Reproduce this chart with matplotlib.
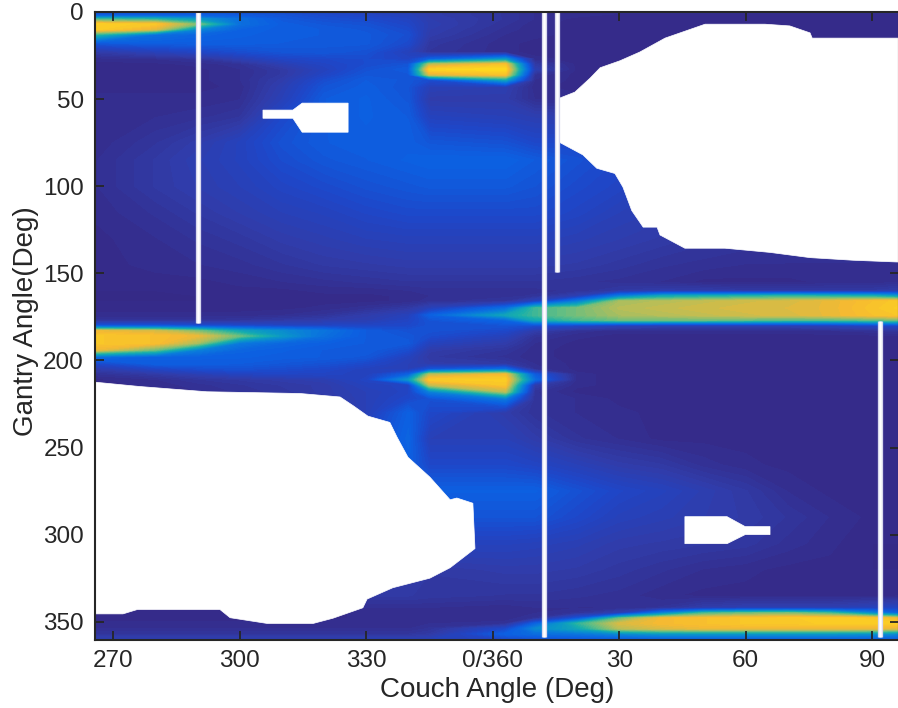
import matplotlib
matplotlib.use('Agg')
import matplotlib.pyplot as plt
from matplotlib.colors import LinearSegmentedColormap
import numpy as np

plt.rcParams['font.family'] = ['Liberation Sans', 'DejaVu Sans']

# couch angle, signed: negative values are 270..359 on the axis
couch = [-94, -80, -70, -60, -50, -40, -30, -20, -15, 3, 10, 20, 30, 40, 50, 60, 70, 80, 90, 97]
gantry = [0, 2, 4, 7, 10, 13, 18, 23, 27, 30, 33, 36, 39, 43, 50, 60, 75, 85, 100, 115,
          130, 145, 155, 160, 163, 166, 170, 174, 177, 180, 183, 186, 190, 194, 198, 202,
          205, 208, 211, 214, 218, 222, 230, 245, 260, 275, 290, 305, 320, 335, 342, 345,
          348, 351, 354, 357, 361]

# leido a ojo de la imagen, escala 0-100
dose = [
    [20, 24, 26, 24, 22, 20, 17, 14, 10, 6, 3, 2, 2, 2, 2, 2, 2, 2, 2, 2],
    [30, 30, 30, 28, 25, 21, 18, 15, 10, 6, 3, 2, 1, 1, 1, 1, 1, 1, 1, 1],
    [64, 60, 50, 36, 27, 23, 21, 17, 11, 6, 3, 1, 1, 1, 1, 1, 1, 1, 1, 1],
    [97, 94, 72, 36, 29, 26, 24, 19, 12, 5, 2, 1, 1, 1, 1, 1, 1, 1, 1, 1],
    [96, 86, 44, 31, 29, 28, 26, 21, 11, 4, 2, 1, 1, 1, 1, 1, 1, 1, 1, 1],
    [62, 36, 32, 30, 29, 28, 27, 23, 10, 3, 2, 1, 1, 1, 1, 1, 1, 1, 1, 1],
    [26, 29, 29, 29, 28, 27, 27, 21, 7, 2, 1, 1, 1, 1, 1, 1, 1, 1, 1, 1],
    [9, 14, 18, 22, 25, 26, 24, 15, 6, 2, 1, 1, 1, 1, 1, 1, 1, 1, 1, 1],
    [2, 3, 5, 12, 18, 20, 22, 18, 30, 50, 2, 1, 1, 1, 1, 1, 1, 1, 1, 1],
    [1, 1, 2, 4, 12, 18, 22, 25, 80, 92, 8, 1, 1, 1, 1, 1, 1, 1, 1, 1],
    [1, 1, 1, 3, 8, 16, 24, 28, 98, 100, 12, 1, 1, 1, 1, 1, 1, 1, 1, 1],
    [1, 1, 1, 3, 8, 18, 26, 26, 85, 92, 4, 1, 1, 1, 1, 1, 1, 1, 1, 1],
    [1, 1, 1, 3, 10, 22, 28, 26, 22, 55, 3, 1, 1, 1, 1, 1, 1, 1, 1, 1],
    [1, 1, 1, 2, 12, 25, 29, 25, 14, 12, 2, 1, 1, 1, 1, 1, 1, 1, 1, 1],
    [2, 2, 2, 3, 14, 28, 30, 26, 10, 10, 3, 2, 2, 2, 2, 2, 2, 2, 2, 2],
    [2, 3, 4, 6, 20, 28, 30, 28, 16, 14, 12, 10, 10, 10, 10, 10, 10, 10, 10, 10],
    [2, 6, 10, 16, 24, 28, 29, 29, 26, 24, 20, 20, 18, 16, 14, 12, 10, 10, 10, 10],
    [3, 8, 12, 16, 22, 26, 28, 30, 31, 31, 28, 24, 20, 16, 14, 12, 10, 10, 10, 10],
    [3, 8, 11, 14, 18, 21, 24, 26, 27, 27, 25, 21, 18, 14, 12, 10, 10, 10, 10, 10],
    [2, 5, 8, 11, 14, 16, 19, 21, 21, 21, 21, 18, 14, 12, 10, 8, 8, 8, 8, 8],
    [1, 3, 5, 7, 10, 12, 14, 15, 15, 15, 15, 13, 11, 9, 7, 6, 5, 5, 5, 5],
    [1, 2, 3, 4, 6, 8, 9, 10, 10, 10, 10, 9, 7, 5, 4, 3, 3, 3, 3, 3],
    [1, 1, 1, 2, 3, 4, 5, 6, 6, 6, 6, 5, 4, 3, 1, 1, 1, 2, 2, 3],
    [0, 0, 1, 1, 1, 2, 2, 3, 4, 4, 4, 5, 8, 10, 10, 8, 8, 8, 8, 10],
    [0, 0, 0, 1, 1, 1, 1, 2, 3, 4, 5, 12, 40, 55, 58, 60, 62, 60, 58, 50],
    [0, 0, 0, 1, 1, 1, 1, 2, 4, 6, 15, 40, 78, 80, 82, 84, 85, 88, 92, 95],
    [1, 1, 1, 1, 1, 2, 4, 8, 14, 35, 65, 72, 80, 82, 84, 85, 86, 88, 93, 96],
    [2, 2, 2, 2, 3, 5, 10, 15, 30, 55, 65, 72, 78, 80, 82, 84, 85, 88, 92, 94],
    [5, 5, 5, 6, 8, 10, 12, 18, 25, 32, 55, 65, 70, 70, 70, 68, 66, 66, 68, 70],
    [25, 25, 22, 20, 18, 18, 18, 20, 24, 25, 22, 18, 14, 12, 12, 12, 12, 14, 18, 20],
    [88, 84, 72, 55, 46, 38, 28, 24, 24, 20, 10, 4, 2, 2, 2, 2, 2, 3, 4, 6],
    [94, 92, 88, 70, 50, 36, 28, 26, 22, 15, 5, 2, 1, 1, 1, 1, 1, 1, 1, 1],
    [94, 92, 78, 40, 33, 30, 28, 27, 16, 10, 3, 1, 1, 1, 1, 1, 1, 1, 1, 1],
    [88, 70, 42, 32, 30, 28, 28, 22, 10, 6, 2, 1, 1, 1, 1, 1, 1, 1, 1, 1],
    [36, 30, 30, 30, 29, 28, 26, 16, 8, 4, 2, 1, 1, 1, 1, 1, 1, 1, 1, 1],
    [20, 29, 29, 28, 26, 24, 20, 14, 10, 8, 3, 1, 1, 1, 1, 1, 1, 1, 1, 1],
    [10, 18, 22, 24, 22, 20, 16, 14, 25, 35, 4, 1, 1, 1, 1, 1, 1, 1, 1, 1],
    [4, 8, 12, 16, 18, 18, 16, 30, 80, 90, 28, 2, 1, 1, 1, 1, 1, 1, 1, 1],
    [1, 3, 6, 8, 10, 12, 18, 50, 95, 96, 35, 2, 1, 1, 1, 1, 1, 1, 1, 1],
    [1, 2, 4, 6, 8, 10, 16, 18, 82, 94, 10, 2, 1, 1, 1, 1, 1, 1, 1, 1],
    [1, 1, 3, 5, 7, 10, 14, 18, 42, 80, 5, 1, 1, 1, 1, 1, 1, 1, 1, 1],
    [5, 5, 5, 5, 5, 8, 14, 20, 24, 40, 5, 3, 1, 1, 1, 1, 1, 1, 1, 1],
    [5, 5, 5, 5, 5, 5, 14, 30, 20, 10, 5, 3, 2, 1, 1, 1, 1, 1, 1, 1],
    [10, 10, 10, 10, 10, 10, 20, 32, 14, 14, 10, 5, 3, 1, 1, 1, 1, 1, 1, 1],
    [10, 10, 10, 10, 10, 10, 20, 30, 20, 20, 18, 14, 10, 8, 4, 2, 1, 1, 1, 1],
    [10, 10, 10, 10, 10, 10, 20, 30, 30, 30, 30, 24, 19, 16, 12, 8, 3, 1, 1, 1],
    [10, 10, 10, 10, 10, 10, 20, 25, 25, 25, 25, 20, 15, 13, 11, 9, 6, 3, 1, 1],
    [10, 10, 10, 10, 10, 10, 16, 16, 16, 16, 15, 13, 10, 9, 8, 7, 4, 2, 0, 0],
    [5, 5, 5, 5, 5, 8, 8, 8, 8, 10, 10, 9, 7, 5, 3, 2, 1, 1, 0, 0],
    [2, 2, 2, 2, 3, 5, 8, 8, 7, 6, 6, 5, 4, 2, 1, 1, 1, 1, 1, 1],
    [1, 1, 1, 1, 1, 2, 3, 3, 3, 2, 3, 3, 3, 5, 10, 12, 12, 12, 15, 18],
    [1, 1, 1, 1, 1, 1, 2, 2, 2, 2, 3, 5, 12, 42, 65, 70, 72, 65, 45, 30],
    [1, 1, 1, 1, 1, 1, 2, 2, 2, 2, 5, 25, 70, 90, 92, 94, 95, 96, 95, 88],
    [2, 2, 2, 2, 2, 2, 2, 2, 3, 4, 30, 62, 85, 90, 92, 94, 94, 96, 96, 96],
    [3, 3, 3, 3, 3, 3, 3, 3, 5, 20, 45, 55, 80, 85, 88, 88, 88, 88, 88, 85],
    [6, 6, 6, 6, 6, 6, 6, 6, 8, 30, 35, 38, 45, 50, 50, 50, 50, 50, 48, 45],
    [14, 14, 14, 14, 14, 14, 15, 15, 16, 18, 20, 22, 22, 22, 22, 22, 22, 22, 22, 22],
]

# regiones sin dato (couch, gantry)
white_upper = [(15.3, 50), (19.5, 46), (23.1, 38), (25.5, 32), (30.2, 28), (34.9, 23), (40.9, 15),
               (50.4, 7), (64.6, 7), (70.5, 8), (75.3, 12), (75.8, 15), (97, 15), (97, 143.6),
               (85.5, 142.5), (75.3, 141), (65.8, 138), (55.1, 135.6), (45.6, 135.6), (39.7, 128),
               (39, 123.5), (35.7, 123.5), (33, 114), (30.9, 100.5), (29, 92.7), (24.7, 89.7),
               (21.4, 82), (16, 75), (15.3, 75)]
white_lower = [(-94.35, 212.5), (-83.7, 215), (-67.8, 218), (-45.7, 219), (-36.2, 221), (-33.1, 226),
               (-29.6, 232), (-24.4, 235.6), (-22.7, 244), (-20.1, 255.6), (-14.9, 267), (-10.1, 280),
               (-8.5, 279), (-4.7, 282), (-4.2, 308), (-10.1, 319), (-14.9, 325), (-23.7, 330.5),
               (-29.8, 337), (-30.8, 342), (-37.9, 348), (-42.6, 351), (-53.5, 351), (-62.3, 347.7),
               (-64.7, 343), (-84.3, 343), (-87.7, 345.5), (-94.35, 345.5)]
white_small_a = [(-54.5, 56.3), (-47.4, 56.3), (-45.2, 52.3), (-34.3, 52.3), (-34.3, 69), (-45.2, 69),
                 (-47.4, 61), (-54.5, 61)]
white_small_b = [(45.6, 289.7), (55.6, 289.7), (59.9, 295.4), (65.8, 295.4), (65.8, 300), (59.9, 300),
                 (55.6, 305.2), (45.6, 305.2)]

# columnas sin dato: couch, gantry inicio, gantry fin
gap_couch = [-69.9, 12.2, 15.2, 92]
gap_start = [0, 0, 0, 177.6]
gap_end = [178.5, 358.5, 149, 358.5]

xticks = [-90, -60, -30, 0, 30, 60, 90]
xticklabels = ['270', '300', '330', '0/360', '30', '60', '90']
yticks = [0, 50, 100, 150, 200, 250, 300, 350]

cmap = LinearSegmentedColormap.from_list('dose', ['#352a87', '#303cAA', '#1e46c8', '#0c5fe1', '#0a78dc',
                                                 '#0a96c8', '#19afaa', '#64be82', '#b4be5a', '#f5b932',
                                                 '#fed71e'])

fig = plt.figure(figsize=(8.98, 7.08), dpi=100)
ax = fig.add_axes([95 / 898, 1 - 640 / 708, 804 / 898, 628 / 708])

ax.contourf(couch, gantry, np.array(dose, dtype=float), levels=np.linspace(0, 100, 65), cmap=cmap,
            extend='both', antialiased=False)

for poly in [white_upper, white_lower, white_small_a, white_small_b]:
    ax.fill(*zip(*poly), color='white', lw=0.5, zorder=2)

for c, g0, g1 in zip(gap_couch, gap_start, gap_end):
    ax.plot([c, c], [g0, g1], color='#d8d8ee', lw=3.8, solid_capstyle='butt', zorder=3)
    ax.plot([c, c], [g0, g1], color='white', lw=1.8, solid_capstyle='butt', zorder=4)

ax.set_xlim(-94.35, 96.4)
ax.set_ylim(360.5, 0)
ax.set_xticks(xticks)
ax.set_xticklabels(xticklabels)
ax.set_yticks(yticks)
ax.tick_params(direction='in', length=6.2, width=1.3, top=True, right=True, labelsize=17.5,
               colors='#262626', pad=8)
ax.tick_params(axis='x', pad=7)
for s in ax.spines.values():
    s.set_linewidth(1.5)
    s.set_color('#262626')
    s.set_zorder(6)

ax.set_xlabel('Couch Angle (Deg)', fontsize=20, color='#262626', labelpad=4)
ax.set_ylabel('Gantry Angle(Deg)', fontsize=20, color='#262626', labelpad=3, y=0.507)

fig.savefig('out.png', dpi=100)
plt.close(fig)
